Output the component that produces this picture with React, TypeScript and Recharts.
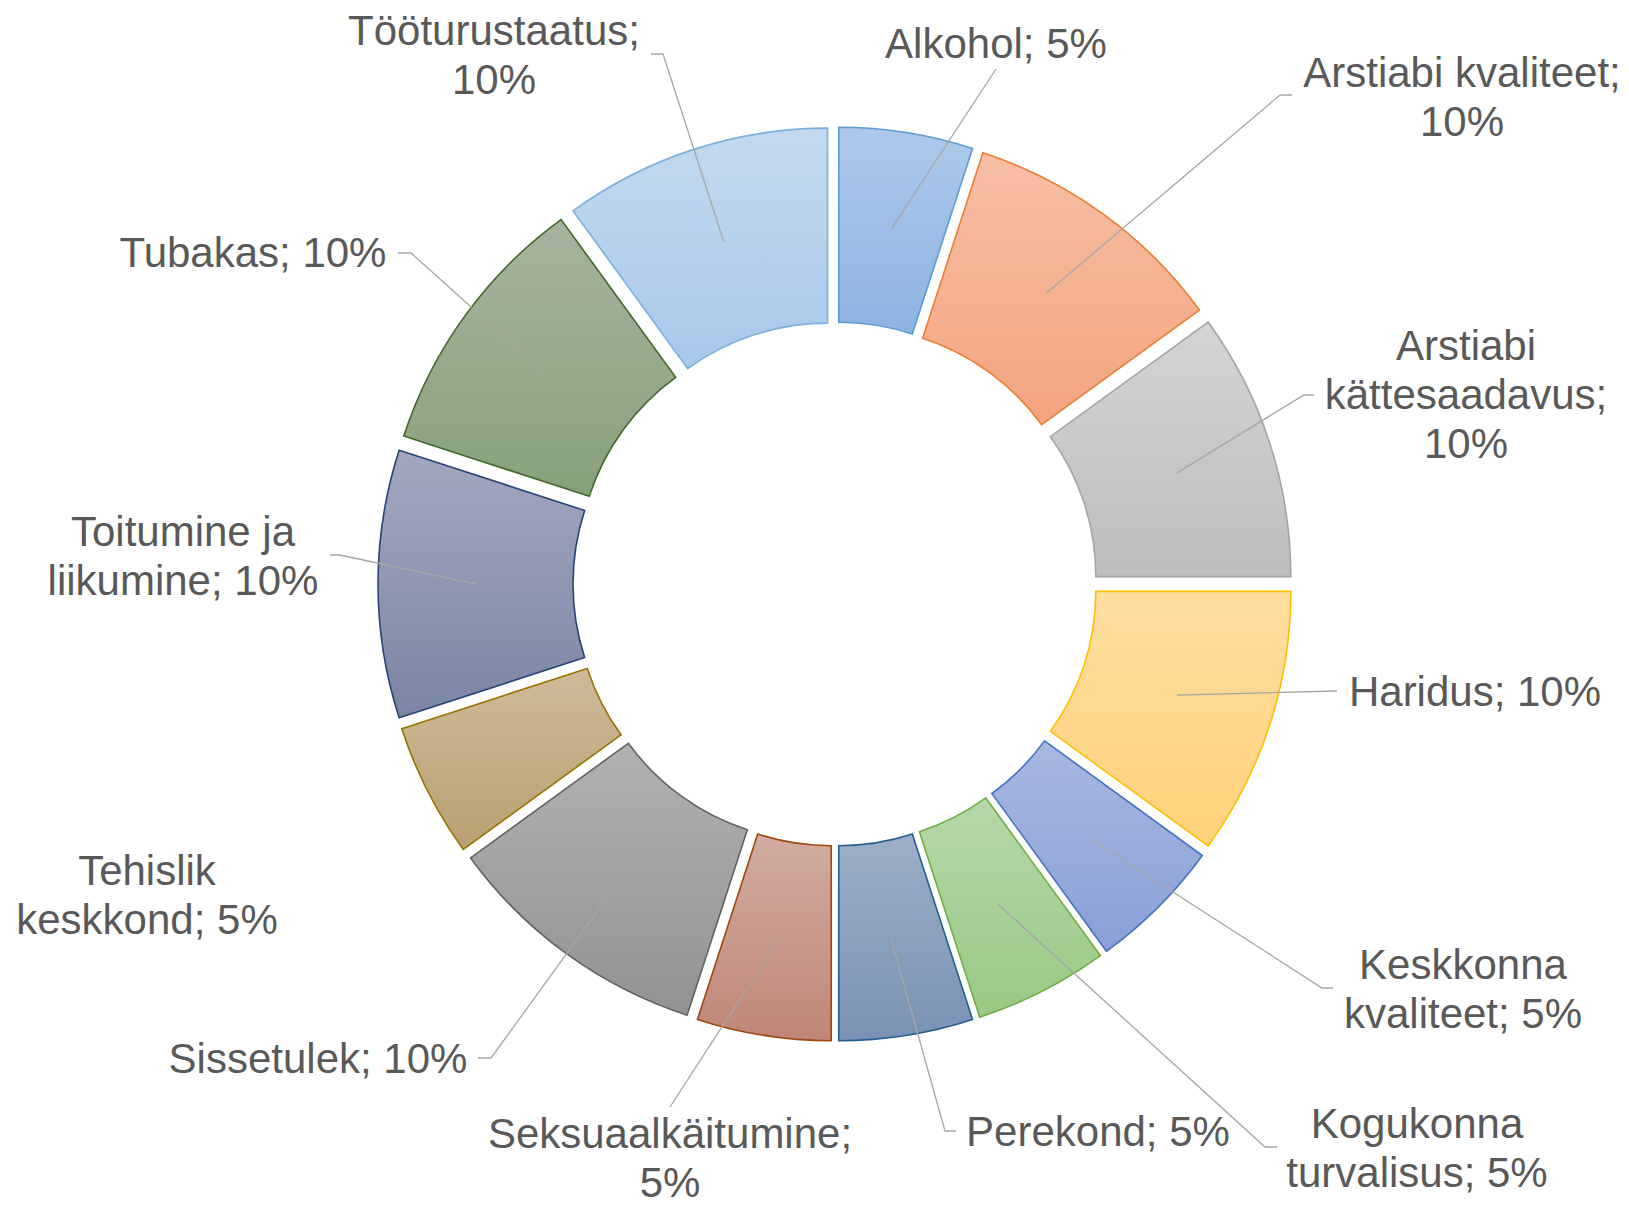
import { PieChart, Pie, Sector } from "recharts"

// shares of the health determinants, clockwise from 12 o'clock
const categories = [
  "Alkohol",
  "Arstiabi kvaliteet",
  "Arstiabi kättesaadavus",
  "Haridus",
  "Keskkonna kvaliteet",
  "Kogukonna turvalisus",
  "Perekond",
  "Seksuaalkäitumine",
  "Sissetulek",
  "Tehislik keskkond",
  "Toitumine ja liikumine",
  "Tubakas",
  "Tööturustaatus",
]
const shares = [5, 10, 10, 10, 5, 5, 5, 5, 10, 5, 10, 10, 10]

// word index after which the label wraps
const labelBreaks = [[], [2], [1, 2], [], [1], [1], [], [1], [], [1], [2], [], [1]]

const gradTop = [
  "#aec9ea", "#f7bfa5", "#d4d4d4", "#ffdea0", "#a9b7df", "#b7d7a8", "#9eafc7",
  "#d2aca2", "#b1b1b1", "#cfba99", "#a3a8c0", "#a6b49f", "#c4d9ef",
]
const gradBottom = [
  "#8db3e2", "#f4a47f", "#bdbdbd", "#ffd27a", "#8aa0d8", "#99c984", "#7991b4",
  "#bf8675", "#929292", "#b9a072", "#7a85a4", "#87a07b", "#a8c8ea",
]
const strokes = [
  "#5b9bd5", "#ed7d31", "#a5a5a5", "#ffc000", "#4472c4", "#70ad47", "#255e91",
  "#9e480e", "#636363", "#997300", "#264478", "#43682b", "#7cafdd",
]

// label block centre and leader elbow, relative to the pie centre
const labelLayout = [
  { bx: 161, by: -541, ex: 161, ey: -515, tick: 0 },
  { bx: 627, by: -488, ex: 445, ey: -489, tick: 12 },
  { bx: 631, by: -190, ex: 469, ey: -189, tick: 10 },
  { bx: 640, by: 107, ex: 502, ey: 107, tick: 0 },
  { bx: 628, by: 404, ex: 487, ey: 404, tick: 11 },
  { bx: 582, by: 563, ex: 430, ey: 563, tick: 12 },
  { bx: 263, by: 547, ex: 110, ey: 547, tick: 11 },
  { bx: -165, by: 573, ex: -165, ey: 523, tick: 0 },
  { bx: -517, by: 474, ex: -344, ey: 474, tick: -13 },
  { bx: -688, by: 310, ex: null, ey: null, tick: 0 },
  { bx: -652, by: -29, ex: -495, ey: -29, tick: -10 },
  { bx: -582, by: -332, ex: -424, ey: -331, tick: -13 },
  { bx: -341, by: -530, ex: -172, ey: -530, tick: -12 },
]

const data = categories.map((name, i) => ({ name, value: shares[i] }))

const EXPLODE = 24
const FONT = 42
const LINE_H = 49

function splitLabel(i: number) {
  const words = `${categories[i]}; ${shares[i]}%`.split(" ")
  const lines: string[] = []
  let cur: string[] = []
  words.forEach((w, k) => {
    cur.push(w)
    if (labelBreaks[i].includes(k + 1)) {
      lines.push(cur.join(" "))
      cur = []
    }
  })
  if (cur.length) lines.push(cur.join(" "))
  return lines
}

function SliceWithLabel(props: any) {
  const { cx, cy, innerRadius, outerRadius, startAngle, endAngle, midAngle, index } = props
  const rad = (-midAngle * Math.PI) / 180
  const sx = cx + EXPLODE * Math.cos(rad)
  const sy = cy + EXPLODE * Math.sin(rad)
  const mr = (innerRadius + outerRadius) / 2
  const lx = sx + mr * Math.cos(rad)
  const ly = sy + mr * Math.sin(rad)
  const lay = labelLayout[index]
  const lines = splitLabel(index)
  const gid = `slice-grad-${index}`
  const tx = cx + lay.bx
  const base = cy + lay.by + 15 - ((lines.length - 1) * LINE_H) / 2

  return (
    <g>
      <defs>
        <linearGradient id={gid} x1="0" y1="0" x2="0" y2="1">
          <stop offset="0%" stopColor={gradTop[index]} />
          <stop offset="100%" stopColor={gradBottom[index]} />
        </linearGradient>
      </defs>
      <Sector
        cx={sx}
        cy={sy}
        innerRadius={innerRadius}
        outerRadius={outerRadius}
        startAngle={startAngle}
        endAngle={endAngle}
        fill={`url(#${gid})`}
        stroke={strokes[index]}
        strokeWidth={1.6}
      />
      {lay.ex !== null && (
        <polyline
          points={`${lx},${ly} ${cx + lay.ex},${cy + lay.ey} ${cx + lay.ex + lay.tick},${cy + lay.ey}`}
          fill="none"
          stroke="#a6a6a6"
          strokeWidth={1.3}
        />
      )}
      <text
        textAnchor="middle"
        fontSize={FONT}
        fill="#595959"
        fontFamily="'Liberation Sans', Arial, sans-serif"
      >
        {lines.map((ln, k) => (
          <tspan key={k} x={tx} y={base + k * LINE_H}>
            {ln}
          </tspan>
        ))}
      </text>
    </g>
  )
}

export default function App() {
  return (
    <div style={{ position: "absolute", left: 0, top: 0, width: 1629, height: 1206, background: "#ffffff" }}>
      <PieChart width={1629} height={1206} margin={{ top: 0, right: 0, bottom: 0, left: 0 }}>
        <Pie
          data={data}
          dataKey="value"
          nameKey="name"
          cx={835}
          cy={584}
          innerRadius={238}
          outerRadius={433}
          startAngle={90}
          endAngle={-270}
          fill="none"
          stroke="none"
          labelLine={false}
          label={SliceWithLabel}
          isAnimationActive={false}
        />
      </PieChart>
    </div>
  )
}
